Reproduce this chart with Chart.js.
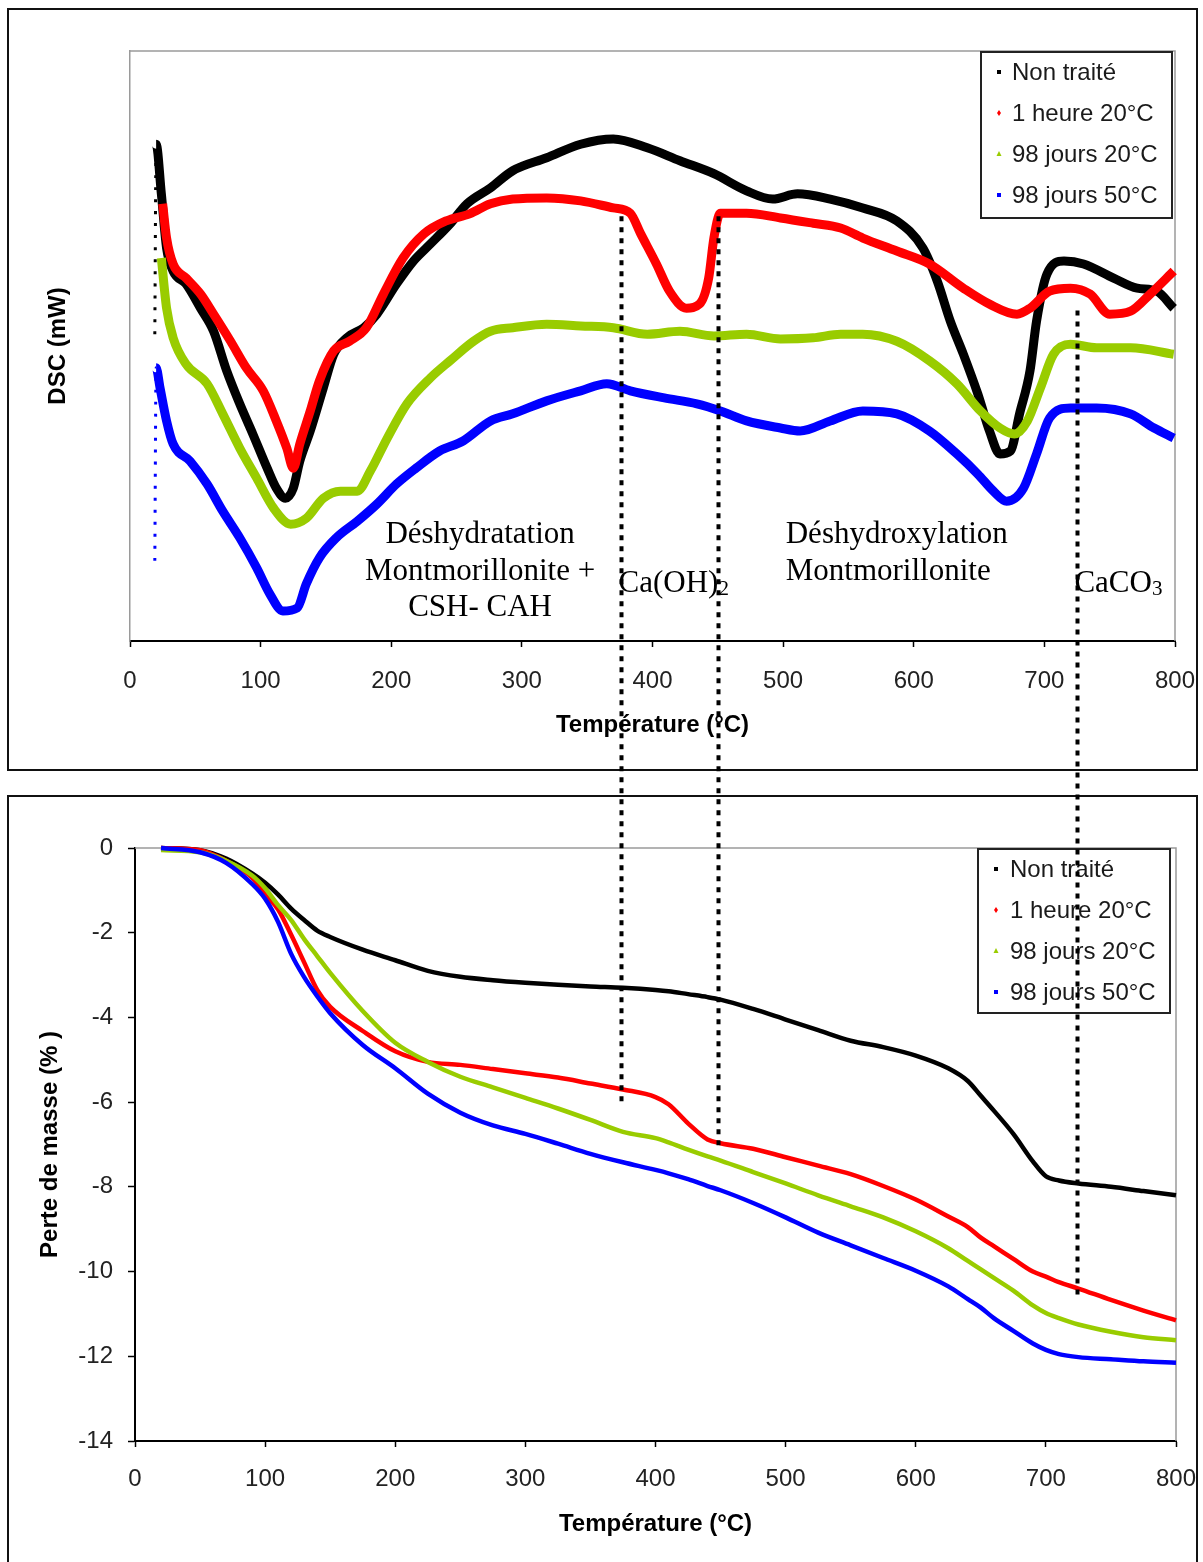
<!DOCTYPE html>
<html>
<head>
<meta charset="utf-8">
<script src="https://cdn.jsdelivr.net/npm/chart.js@4.4.1/dist/chart.umd.min.js"></script>
<style>
  html, body { margin: 0; padding: 0; background: #fff; }
  body { width: 1203px; height: 1562px; position: relative; overflow: hidden; }
  canvas { position: absolute; left: 0; }
  #dsc { top: 0; }
  #tga { top: 785px; }
  #overlay { top: 0; pointer-events: none; }
  .frame { position: absolute; border: 2px solid #111; box-sizing: border-box; pointer-events: none; }
</style>
</head>
<body>
<canvas id="dsc" width="1203" height="785"></canvas>
<canvas id="tga" width="1203" height="777"></canvas>
<div class="frame" style="left:7px;top:8px;width:1191px;height:763px"></div>
<div class="frame" style="left:7px;top:795px;width:1191px;height:780px"></div>
<canvas id="overlay" width="1203" height="1562"></canvas>
<script>
// ---- Samples ----
const seriesNames = ['Non traité', '1 heure 20°C', '98 jours 20°C', '98 jours 50°C'];
const seriesColors = ['#000000', '#ff0000', '#99cc00', '#0000ff'];
const seriesMarkers = ['rect', 'rectRot', 'triangle', 'rect'];

// ---- DSC curves (temperature °C, heat flow in relative units) ----
const dscTempNonTraite = [19, 20, 24, 28, 33, 43, 54, 64, 74, 84, 94, 105, 112, 119, 125, 130, 138, 148, 156, 166, 179, 189, 204, 217, 230, 245, 258, 276, 293, 319, 345, 370, 396, 421, 447, 472, 492, 511, 536, 561, 587, 607, 618, 628, 638, 649, 658, 666, 674, 681, 689, 694, 702, 715, 730, 753, 771, 786, 799];
const dscNonTraite = [52.0, 84.2, 75.8, 66.6, 62.7, 60.5, 56.4, 52.5, 45.8, 40.2, 35.1, 29.3, 25.9, 24.2, 25.9, 30.5, 35.6, 42.9, 48.6, 51.4, 53.1, 55.4, 60.5, 64.4, 67.3, 70.7, 74.1, 76.8, 79.7, 81.9, 84.2, 85.1, 83.6, 81.4, 79.2, 76.3, 74.9, 75.8, 74.9, 73.4, 71.2, 66.6, 61.0, 54.2, 48.6, 41.9, 35.6, 31.7, 32.2, 38.5, 45.8, 54.2, 62.2, 64.4, 63.9, 61.5, 59.8, 59.3, 56.4];

const dscTempUneHeure = [25, 28, 33, 43, 54, 64, 77, 89, 102, 112, 120, 125, 130, 138, 145, 156, 168, 181, 194, 209, 225, 242, 260, 276, 293, 319, 345, 370, 383, 391, 403, 413, 426, 436, 443, 447, 452, 472, 498, 523, 544, 561, 587, 612, 638, 658, 679, 689, 704, 720, 735, 750, 766, 781, 799];
const dscUneHeure = [74.1, 68.3, 63.9, 61.5, 58.8, 55.4, 50.8, 46.3, 42.4, 37.3, 32.7, 29.3, 33.4, 39.0, 44.1, 49.2, 50.8, 53.1, 58.8, 64.9, 69.0, 71.2, 72.4, 74.1, 74.9, 75.1, 74.6, 73.4, 72.5, 69.0, 63.9, 59.3, 56.4, 57.1, 61.5, 68.3, 72.5, 72.5, 71.7, 70.8, 70.0, 68.3, 66.1, 63.9, 59.8, 57.1, 55.4, 56.4, 59.3, 59.8, 58.8, 55.4, 55.9, 58.8, 62.7];

const dscTempJours20 = [24, 28, 33, 43, 59, 71, 84, 97, 110, 123, 135, 148, 161, 174, 184, 197, 212, 230, 245, 263, 276, 293, 319, 345, 370, 396, 421, 447, 472, 498, 523, 544, 561, 587, 612, 633, 651, 666, 677, 687, 697, 707, 720, 740, 766, 799];
const dscJours20 = [64.9, 56.4, 51.4, 46.9, 43.6, 38.5, 32.7, 27.6, 22.5, 19.8, 20.8, 24.2, 25.4, 25.4, 28.8, 34.4, 40.2, 44.6, 47.5, 50.8, 52.5, 53.1, 53.7, 53.4, 53.1, 52.0, 52.5, 51.7, 52.0, 51.2, 51.4, 52.0, 52.0, 50.8, 47.5, 43.6, 39.0, 36.1, 35.1, 37.3, 42.9, 48.6, 50.3, 49.7, 49.7, 48.6];

const dscTempJours50 = [19, 20, 23, 28, 33, 46, 59, 71, 84, 97, 107, 117, 128, 135, 145, 158, 174, 189, 204, 219, 237, 255, 276, 293, 319, 345, 365, 383, 409, 434, 452, 472, 498, 513, 536, 561, 587, 612, 633, 649, 661, 671, 684, 694, 704, 720, 740, 766, 784, 799];
const dscJours50 = [13.6, 46.3, 42.9, 37.3, 33.4, 30.5, 26.6, 22.0, 17.5, 12.4, 8.0, 5.1, 5.6, 9.7, 14.1, 17.5, 20.3, 23.2, 26.6, 29.3, 32.2, 33.9, 37.3, 38.5, 40.7, 42.4, 43.6, 42.4, 41.2, 40.2, 39.0, 37.3, 36.1, 35.6, 37.3, 39.0, 38.5, 35.6, 31.7, 28.3, 25.4, 23.7, 25.9, 31.7, 37.8, 39.5, 39.5, 38.5, 36.1, 34.4];

// ---- Mass loss curves (%) ----
const tgaTemps = [20, 50, 70, 90, 100, 110, 120, 130, 140, 150, 175, 200, 225, 250, 275, 300, 325, 350, 375, 400, 410, 425, 440, 450, 475, 500, 525, 550, 575, 600, 625, 640, 650, 660, 675, 690, 700, 710, 725, 750, 775, 800];
const tgaNonTraite = [0, -0.05, -0.25, -0.6, -0.82, -1.1, -1.43, -1.7, -1.95, -2.1, -2.4, -2.65, -2.9, -3.04, -3.12, -3.18, -3.23, -3.27, -3.3, -3.35, -3.38, -3.45, -3.52, -3.58, -3.8, -4.05, -4.3, -4.55, -4.7, -4.9, -5.2, -5.5, -5.85, -6.2, -6.75, -7.4, -7.75, -7.85, -7.92, -8.0, -8.1, -8.2];
const tgaUneHeure = [0, -0.05, -0.3, -0.7, -1.1, -1.45, -2.05, -2.7, -3.35, -3.75, -4.32, -4.8, -5.05, -5.12, -5.22, -5.32, -5.42, -5.56, -5.7, -5.88, -6.05, -6.5, -6.88, -6.97, -7.1, -7.3, -7.5, -7.7, -7.98, -8.3, -8.7, -8.95, -9.2, -9.4, -9.7, -10.0, -10.12, -10.25, -10.4, -10.67, -10.92, -11.15];
const tgaJours20 = [-0.05, -0.1, -0.3, -0.65, -0.95, -1.35, -1.7, -2.15, -2.55, -2.95, -3.85, -4.6, -5.05, -5.4, -5.65, -5.9, -6.15, -6.42, -6.7, -6.85, -6.95, -7.12, -7.28, -7.38, -7.65, -7.92, -8.2, -8.46, -8.72, -9.05, -9.45, -9.75, -9.95, -10.15, -10.45, -10.8, -10.98, -11.1, -11.25, -11.42, -11.55, -11.62];
const tgaJours50 = [0, -0.1, -0.35, -0.85, -1.2, -1.75, -2.5, -3.05, -3.5, -3.9, -4.65, -5.2, -5.8, -6.25, -6.55, -6.75, -6.98, -7.22, -7.42, -7.6, -7.68, -7.82, -7.98, -8.08, -8.38, -8.72, -9.08, -9.38, -9.68, -9.98, -10.35, -10.65, -10.85, -11.1, -11.4, -11.7, -11.85, -11.95, -12.02, -12.07, -12.12, -12.15];

// ---- Axis ticks ----
const tempTicks = [0, 100, 200, 300, 400, 500, 600, 700, 800];
const massTicks = [0, -2, -4, -6, -8, -10, -12, -14];

// ---- Transitions marked across both panels ----
const transitionTemps = [376, 450, 725];
const transitionDscStart = [72.0, 72.0, 56.0];
const transitionMassEnd = [-6.0, -7.1, -10.55];

// ---- Peak labels on the DSC panel (temperature, DSC value of first baseline) ----
const dscNotes = [
  { lines: ['Déshydratation', 'Montmorillonite +', 'CSH- CAH'], t: 268, v: 16.6, align: 'center' },
  { lines: ['Déshydroxylation', 'Montmorillonite'], t: 502, v: 16.6, align: 'left' },
  { text: 'Ca(OH)', sub: '2', t: 374, v: 8.3 },
  { text: 'CaCO', sub: '3', t: 723, v: 8.3 }
];

const SANS = '"Liberation Sans", Arial, sans-serif';
const SERIF = '"Liberation Serif", "Times New Roman", serif';
Chart.defaults.font.family = SANS;
Chart.defaults.color = '#222';

function pairs(xs, ys) { return xs.map((x, i) => ({ x: x, y: ys[i] })); }

function marker(ctx, style, x, y, r) {
  ctx.beginPath();
  if (style === 'rect') {
    ctx.rect(x - r, y - r, 2 * r, 2 * r);
  } else if (style === 'rectRot') {
    ctx.moveTo(x, y - r - 1); ctx.lineTo(x + r, y); ctx.lineTo(x, y + r + 1); ctx.lineTo(x - r, y);
    ctx.closePath();
  } else {
    ctx.moveTo(x, y - r - 1); ctx.lineTo(x + r + 0.5, y + r); ctx.lineTo(x - r - 0.5, y + r);
    ctx.closePath();
  }
  ctx.fill();
}

function boxLegend(o) {
  return {
    id: 'boxLegend',
    afterDatasetsDraw(chart) {
      const { ctx, chartArea } = chart;
      const left = chartArea.right - o.right - o.width;
      const top = chartArea.top + o.top;
      ctx.save();
      ctx.fillStyle = '#fff';
      ctx.fillRect(left, top, o.width, o.height);
      ctx.strokeStyle = '#222';
      ctx.lineWidth = 2;
      ctx.strokeRect(left, top, o.width, o.height);
      ctx.font = '24px ' + SANS;
      ctx.textAlign = 'left';
      ctx.textBaseline = 'middle';
      chart.data.datasets.forEach((ds, i) => {
        const cy = top + o.first + i * o.step;
        ctx.fillStyle = ds.borderColor;
        marker(ctx, ds.pointStyle, left + o.markerX, cy, 2);
        ctx.fillStyle = '#1a1a1a';
        ctx.fillText(ds.label, left + o.textX, cy + 1);
      });
      ctx.restore();
    }
  };
}

const frameEdges = {
  id: 'frameEdges',
  beforeDatasetsDraw(chart) {
    const { ctx, chartArea: { left, right, top, bottom } } = chart;
    ctx.save();
    ctx.strokeStyle = '#9a9a9a';
    ctx.lineWidth = 1.5;
    ctx.beginPath();
    ctx.moveTo(left, top);
    ctx.lineTo(right, top);
    ctx.lineTo(right, bottom);
    ctx.stroke();
    ctx.restore();
  }
};

const notesPlugin = {
  id: 'notes',
  afterDatasetsDraw(chart) {
    const { ctx, scales: { x, y } } = chart;
    ctx.save();
    ctx.fillStyle = '#000';
    ctx.textBaseline = 'alphabetic';
    dscNotes.forEach(n => {
      const px = x.getPixelForValue(n.t);
      const py = y.getPixelForValue(n.v);
      ctx.font = '31px ' + SERIF;
      if (n.lines) {
        ctx.textAlign = n.align;
        n.lines.forEach((s, i) => ctx.fillText(s, px, py + i * 36.5));
      } else {
        ctx.textAlign = 'left';
        ctx.fillText(n.text, px, py);
        const w = ctx.measureText(n.text).width;
        ctx.font = '21px ' + SERIF;
        ctx.fillText(n.sub, px + w, py + 3);
      }
    });
    ctx.restore();
  }
};

// the first segment of a DSC record is the start-up transient, drawn sparse
function lineSet(i, data, width, sparseStart) {
  const ds = {
    label: seriesNames[i],
    data: data,
    borderColor: seriesColors[i],
    backgroundColor: seriesColors[i],
    pointStyle: seriesMarkers[i],
    borderWidth: width,
    pointRadius: 0,
    cubicInterpolationMode: 'monotone',
    fill: false,
    clip: false,
    order: 3 - i
  };
  if (sparseStart) {
    ds.segment = {
      borderWidth: c => (c.p0DataIndex === 0 ? 3 : width),
      borderDash: c => (c.p0DataIndex === 0 ? [3, 9] : [])
    };
  }
  return ds;
}

const tickFont = { family: SANS, size: 24 };
const titleFont = { family: SANS, size: 24, weight: 'bold' };

function fixX(h) {
  return s => { s.height = h; s.paddingLeft = 0; s.paddingRight = 0; };
}
function fixY(w) {
  return s => { s.width = w; s.paddingTop = 0; s.paddingBottom = 0; };
}

// ---- DSC panel ----
const dscChart = new Chart(document.getElementById('dsc'), {
  type: 'line',
  data: {
    datasets: [
      lineSet(0, pairs(dscTempNonTraite, dscNonTraite), 9, true),
      lineSet(1, pairs(dscTempUneHeure, dscUneHeure), 9, false),
      lineSet(2, pairs(dscTempJours20, dscJours20), 9, false),
      lineSet(3, pairs(dscTempJours50, dscJours50), 9, true)
    ]
  },
  options: {
    responsive: false,
    animation: false,
    events: [],
    devicePixelRatio: 1,
    layout: { padding: { left: 0, right: 28, top: 51, bottom: 0 } },
    plugins: { legend: { display: false }, tooltip: { enabled: false } },
    scales: {
      x: {
        type: 'linear', min: 0, max: 800,
        afterBuildTicks: s => { s.ticks = tempTicks.map(v => ({ value: v })); },
        ticks: { font: tickFont, color: '#222', padding: 20, maxRotation: 0, autoSkip: false },
        grid: { display: true, drawOnChartArea: false, drawTicks: true, tickLength: 6, tickColor: '#000', tickWidth: 1.5 },
        border: { display: true, color: '#000', width: 2 },
        title: { display: true, text: 'Température (°C)', font: titleFont, color: '#000', padding: { top: 0, bottom: 45 } },
        afterFit: fixX(144)
      },
      y: {
        type: 'linear', min: 0, max: 100,
        ticks: { display: false },
        grid: { display: false, drawTicks: false },
        border: { display: true, color: '#9a9a9a', width: 1.5 },
        title: { display: true, text: 'DSC (mW)', font: titleFont, color: '#000', padding: { top: 44, bottom: 0 } },
        afterFit: fixY(130)
      }
    }
  },
  plugins: [frameEdges, notesPlugin, boxLegend({ width: 191, height: 166, right: 3, top: 1, first: 20, step: 41, markerX: 18, textX: 31 })]
});

// ---- Mass loss panel ----
const tgaChart = new Chart(document.getElementById('tga'), {
  type: 'line',
  data: {
    datasets: [
      lineSet(0, pairs(tgaTemps, tgaNonTraite), 4.5, false),
      lineSet(1, pairs(tgaTemps, tgaUneHeure), 4.5, false),
      lineSet(2, pairs(tgaTemps, tgaJours20), 4.5, false),
      lineSet(3, pairs(tgaTemps, tgaJours50), 4.5, false)
    ]
  },
  options: {
    responsive: false,
    animation: false,
    events: [],
    devicePixelRatio: 1,
    layout: { padding: { left: 0, right: 27, top: 63, bottom: 0 } },
    plugins: { legend: { display: false }, tooltip: { enabled: false } },
    scales: {
      x: {
        type: 'linear', min: 0, max: 800,
        afterBuildTicks: s => { s.ticks = tempTicks.map(v => ({ value: v })); },
        ticks: { font: tickFont, color: '#222', padding: 18, maxRotation: 0, autoSkip: false },
        grid: { display: true, drawOnChartArea: false, drawTicks: true, tickLength: 6, tickColor: '#000', tickWidth: 1.5 },
        border: { display: true, color: '#000', width: 2 },
        title: { display: true, text: 'Température (°C)', font: titleFont, color: '#000', padding: { top: 0, bottom: 23 } },
        afterFit: fixX(121)
      },
      y: {
        type: 'linear', min: -14, max: 0,
        afterBuildTicks: s => { s.ticks = massTicks.map(v => ({ value: v })); },
        ticks: { font: tickFont, color: '#222', padding: 15, autoSkip: false },
        grid: { display: true, drawOnChartArea: false, drawTicks: true, tickLength: 7, tickColor: '#000', tickWidth: 1.5 },
        border: { display: true, color: '#000', width: 2 },
        title: { display: true, text: 'Perte de masse (% )', font: titleFont, color: '#000', padding: { top: 36, bottom: 0 } },
        afterFit: fixY(135)
      }
    }
  },
  plugins: [frameEdges, boxLegend({ width: 192, height: 164, right: 6, top: 1, first: 20, step: 41, markerX: 18, textX: 32 })]
});

// ---- Dotted transition lines running through both panels ----
(function drawTransitions() {
  const ov = document.getElementById('overlay');
  const ctx = ov.getContext('2d');
  const dscTop = document.getElementById('dsc').offsetTop;
  const tgaTop = document.getElementById('tga').offsetTop;
  ctx.strokeStyle = '#000';
  ctx.lineWidth = 4;
  ctx.lineCap = 'butt';
  ctx.setLineDash([5, 6]);
  transitionTemps.forEach((t, i) => {
    const x = Math.round(dscChart.scales.x.getPixelForValue(t)) + 0.5;
    const y0 = dscTop + dscChart.scales.y.getPixelForValue(transitionDscStart[i]);
    const y1 = tgaTop + tgaChart.scales.y.getPixelForValue(transitionMassEnd[i]);
    ctx.beginPath();
    ctx.moveTo(x, y0);
    ctx.lineTo(x, y1);
    ctx.stroke();
  });
})();
</script>
</body>
</html>
